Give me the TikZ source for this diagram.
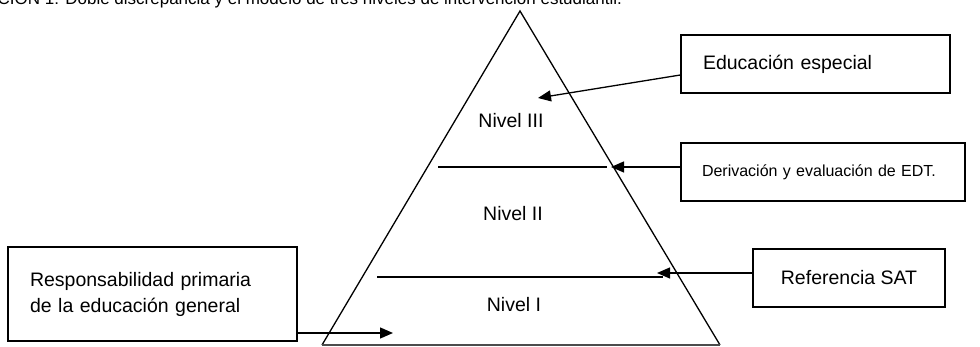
\documentclass[tikz,border=0pt]{standalone}
\usepackage{fontspec}
\setmainfont{Liberation Sans}
\usetikzlibrary{arrows.meta}
\begin{document}
\begin{tikzpicture}[x=1pt,y=-1pt,
  line width=1.3pt,
  box/.style={draw,line width=1.3pt,rectangle,align=left,inner xsep=0pt,inner ysep=0pt},
  lvl/.style={font=\fontsize{19.5}{23}\selectfont},
  arr/.style={-{Triangle[length=13pt,width=11pt]},line width=1.3pt}]
\useasboundingbox (0,0) rectangle (980,347);
\clip (0,0) rectangle (980,347);
% title (cut at top in the reference)
\node[anchor=base west,inner sep=0pt,font=\fontsize{17}{20}\selectfont] (title) at (-3,5)
  {CIÓN 1: Doble discrepancia y el modelo de tres niveles de intervención estudiantil.};
% pyramid
\coordinate (apex) at (520,11);
\coordinate (bl) at (322,345);
\coordinate (br) at (720,345);
\draw[line width=1.3pt,line join=miter] (bl) -- (apex) -- (br);
\draw[line width=1.3pt,draw=black!70] (bl) -- (br);
\coordinate (d1a) at (438,167);
\coordinate (d1b) at (607,167);
\coordinate (d2a) at (377,277);
\coordinate (d2b) at (663,277);
\draw (d1a) -- (d1b);
\draw (d2a) -- (d2b);
\node[lvl] (n3) at (511,121) {Nivel III};
\node[lvl] (n2) at (513,214) {Nivel II};
\node[lvl] (n1) at (514,305) {Nivel I};
% boxes
\node[box,minimum width=269pt,minimum height=58pt,text width=225pt,
  font=\fontsize{19.5}{23}\selectfont] (edu) at (815.5,64)
  {\raisebox{-5pt}{Educación especial}};
\node[box,minimum width=284pt,minimum height=58pt,text width=242pt,
  font=\fontsize{16}{19}\selectfont] (der) at (823,172)
  {\raisebox{-3pt}{Derivación y evaluación de EDT.}};
\node[box,minimum width=192pt,minimum height=58pt,align=center,
  font=\fontsize{19.5}{23}\selectfont] (sat) at (849,278) {Referencia SAT};
\node[box,minimum width=289pt,minimum height=94pt,text width=245pt,
  font=\fontsize{19.5}{26}\selectfont] (resp) at (152.5,294)
  {Responsabilidad primaria\\de la educación general};
% arrow tips
\coordinate (t3) at (538,98);
\coordinate (t2) at (611,167);
\coordinate (t1) at (657,273);
\coordinate (t0) at (393,333);
\draw[arr] ([yshift=-11pt]edu.west) -- (t3);
\draw[arr] ([yshift=5pt]der.west) -- (t2);
\draw[arr] ([yshift=5pt]sat.west) -- (t1);
\draw[arr] ([yshift=-39pt]resp.east) -- (t0);
\end{tikzpicture}
\end{document}
